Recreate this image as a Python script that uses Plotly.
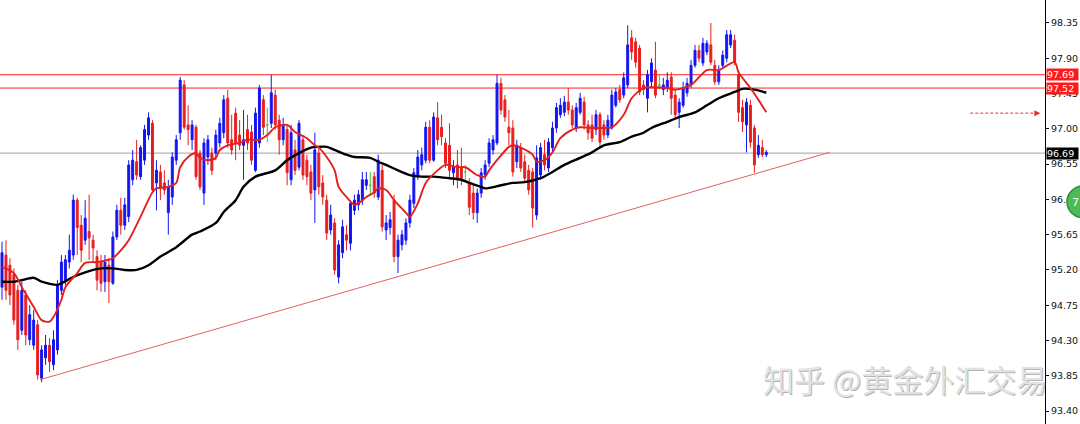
import plotly.graph_objects as go

# ---------------- data ----------------
opens = [94.98, 95.39, 95.26, 95.14, 94.94, 94.43, 94.88, 94.31, 94.24, 94.50,
         93.82, 94.08, 94.24, 93.99, 94.18, 94.94, 95.07, 95.30, 95.39, 96.09,
         95.77, 95.58, 95.69, 95.58, 95.37, 95.30, 95.05, 95.26, 95.03, 95.62,
         95.96, 95.77, 95.88, 96.35, 96.58, 96.39, 96.60, 96.92, 97.07, 96.31,
         96.45, 96.31, 95.93, 96.13, 96.60, 96.95, 97.56, 97.05, 96.86, 97.02,
         96.69, 96.18, 96.64, 96.69, 96.69, 96.82, 96.95, 97.39, 96.86, 97.20,
         96.92, 96.79, 96.99, 96.96, 96.47, 96.82, 97.37, 97.05, 97.07, 97.43,
         97.11, 96.86, 96.99, 96.35, 96.73, 96.51, 96.86, 96.60, 96.45, 96.22,
         96.69, 96.31, 96.09, 95.71, 95.80, 95.11, 95.42, 95.65, 95.54, 95.96,
         96.03, 96.09, 96.28, 96.28, 96.39, 96.13, 96.47, 95.71, 95.74, 96.09,
         95.37, 95.52, 95.58, 95.80, 96.05, 96.39, 96.54, 96.60, 97.02, 96.60,
         97.14, 97.02, 96.82, 96.79, 96.44, 96.54, 96.50, 96.45, 96.31, 96.18,
         95.93, 96.18, 96.41, 96.56, 96.73, 96.82, 97.58, 97.37, 97.02, 97.01,
         96.58, 96.76, 96.58, 96.47, 96.45, 95.90, 96.41, 96.67, 96.50, 96.76,
         97.01, 97.18, 97.21, 97.34, 97.24, 97.01, 97.21, 97.34, 97.05, 97.05,
         96.99, 97.18, 97.05, 96.92, 97.01, 97.30, 97.50, 97.43, 97.56, 98.16,
         98.11, 98.03, 97.56, 97.39, 97.60, 97.75, 97.56, 97.50, 97.52, 97.66,
         97.43, 97.21, 97.30, 97.46, 97.56, 97.81, 98.00, 97.84, 97.98, 98.07,
         97.81, 97.60, 97.81, 97.90, 98.07, 98.13, 97.69, 97.27, 97.05, 97.30,
         97.01, 96.67, 96.76, 96.67]

closes = [95.42, 94.94, 94.88, 94.56, 94.31, 94.94, 94.37, 94.63, 94.56, 93.86,
          94.18, 94.24, 94.03, 94.31, 95.01, 95.30, 95.33, 95.45, 96.09, 95.74,
          95.45, 95.86, 95.61, 95.48, 95.07, 95.03, 95.30, 95.05, 95.62, 95.96,
          95.77, 96.03, 96.54, 96.60, 96.41, 96.76, 96.99, 97.14, 96.22, 96.47,
          96.24, 96.22, 96.26, 96.64, 96.86, 97.62, 97.02, 96.99, 97.05, 96.39,
          96.26, 96.82, 96.86, 96.47, 96.92, 97.07, 97.37, 96.82, 96.73, 96.82,
          96.79, 96.86, 96.82, 96.60, 97.20, 97.52, 97.02, 97.05, 97.46, 97.05,
          96.86, 97.05, 96.44, 96.95, 96.47, 97.07, 96.41, 96.39, 96.18, 96.73,
          96.26, 96.13, 95.67, 95.90, 95.20, 95.52, 95.75, 95.58, 96.05, 96.09,
          96.16, 96.35, 96.35, 96.28, 96.18, 96.60, 95.75, 95.80, 95.84, 95.37,
          95.58, 95.65, 95.80, 96.09, 96.44, 96.64, 96.67, 97.02, 96.60, 97.15,
          96.86, 96.90, 96.56, 96.47, 96.51, 96.37, 96.37, 96.45, 96.00, 95.93,
          96.18, 96.44, 96.54, 96.82, 96.86, 97.58, 97.24, 97.15, 96.95, 96.45,
          96.79, 96.50, 96.37, 96.22, 95.99, 96.63, 96.76, 96.54, 96.83, 97.01,
          97.27, 97.30, 97.34, 97.24, 97.05, 97.27, 97.39, 97.05, 96.95, 96.88,
          97.18, 96.83, 96.92, 97.11, 97.43, 97.47, 97.37, 97.65, 98.07, 97.98,
          97.85, 97.47, 97.50, 97.69, 97.84, 97.43, 97.56, 97.56, 97.62, 97.39,
          97.18, 97.34, 97.52, 97.58, 97.81, 98.00, 97.90, 98.09, 98.09, 97.85,
          97.60, 97.75, 97.94, 98.20, 98.20, 97.85, 97.21, 97.09, 97.34, 96.83,
          96.54, 96.79, 96.67, 96.70]

highs = [95.56, 95.58, 95.35, 95.22, 95.01, 95.05, 94.94, 94.75, 94.69, 94.56,
         94.24, 94.37, 94.33, 94.43, 95.07, 95.39, 95.39, 95.65, 96.16, 96.12,
         95.90, 96.09, 96.16, 95.65, 95.45, 95.39, 95.39, 95.35, 95.69, 96.03,
         96.12, 96.12, 96.60, 96.73, 96.86, 96.79, 97.05, 97.21, 97.11, 96.60,
         96.54, 96.47, 96.35, 96.70, 96.92, 97.66, 97.62, 97.30, 97.11, 97.05,
         96.73, 96.88, 96.92, 96.76, 96.99, 97.14, 97.43, 97.50, 97.18, 97.27,
         97.11, 97.24, 97.18, 97.05, 97.27, 97.56, 97.43, 97.27, 97.69, 97.50,
         97.18, 97.14, 97.05, 97.05, 96.86, 97.11, 96.92, 96.67, 96.54, 96.95,
         96.76, 96.41, 96.16, 96.03, 95.86, 95.58, 95.84, 95.77, 96.09, 96.16,
         96.22, 96.45, 96.45, 96.45, 96.45, 96.67, 96.54, 95.90, 95.94, 96.16,
         95.65, 95.71, 95.86, 96.16, 96.50, 96.73, 96.76, 97.09, 97.11, 97.21,
         97.34, 97.18, 96.88, 97.07, 96.60, 96.73, 96.76, 96.54, 96.37, 96.28,
         96.24, 96.50, 96.60, 96.88, 96.92, 97.69, 97.65, 97.43, 97.24, 97.11,
         96.86, 96.82, 96.67, 96.54, 96.50, 96.79, 96.82, 96.86, 96.88, 97.09,
         97.33, 97.39, 97.42, 97.52, 97.30, 97.33, 97.46, 97.41, 97.11, 97.18,
         97.24, 97.21, 97.11, 97.18, 97.50, 97.52, 97.56, 97.72, 98.32, 98.26,
         98.16, 98.07, 97.62, 97.75, 97.90, 98.11, 97.69, 97.65, 97.72, 97.72,
         97.50, 97.39, 97.60, 97.65, 97.88, 98.07, 98.07, 98.16, 98.13, 98.35,
         97.88, 97.81, 98.00, 98.26, 98.26, 98.20, 97.75, 97.37, 97.39, 97.37,
         97.05, 96.92, 96.86, 96.73]

lows = [94.82, 94.82, 94.75, 94.50, 94.18, 94.37, 94.24, 94.24, 94.18, 93.80,
        93.77, 93.99, 93.90, 93.92, 94.12, 94.88, 95.01, 95.22, 95.33, 95.39,
        95.30, 95.52, 95.33, 95.30, 94.94, 94.92, 94.92, 94.78, 95.01, 95.58,
        95.65, 95.71, 95.81, 96.28, 96.35, 96.35, 96.54, 96.86, 96.19, 95.96,
        96.09, 96.16, 95.65, 96.03, 96.54, 96.86, 96.99, 96.79, 96.73, 96.35,
        96.22, 96.03, 96.54, 96.41, 96.60, 96.76, 96.88, 96.76, 96.67, 96.60,
        96.73, 96.35, 96.73, 96.54, 96.45, 96.76, 96.92, 96.83, 97.01, 96.99,
        96.67, 96.79, 96.28, 96.28, 96.41, 96.47, 96.35, 96.28, 96.09, 95.80,
        96.16, 96.03, 95.58, 95.65, 95.14, 95.03, 95.35, 95.45, 95.45, 95.90,
        95.96, 96.03, 96.22, 96.16, 96.12, 96.09, 95.69, 95.58, 95.65, 95.30,
        95.16, 95.45, 95.52, 95.74, 95.99, 96.35, 96.47, 96.56, 96.56, 96.58,
        96.79, 96.79, 96.50, 96.37, 96.28, 96.24, 96.28, 96.35, 95.90, 95.84,
        95.80, 96.12, 96.35, 96.51, 96.67, 96.79, 97.18, 97.09, 96.79, 96.39,
        96.50, 96.45, 96.31, 96.16, 95.74, 95.84, 96.35, 96.47, 96.45, 96.70,
        96.95, 97.14, 97.16, 97.18, 97.01, 96.96, 97.18, 96.99, 96.86, 96.83,
        96.92, 96.76, 96.86, 96.88, 96.99, 97.27, 97.33, 97.39, 97.52, 97.88,
        97.78, 97.43, 97.43, 97.21, 97.52, 97.39, 97.50, 97.43, 97.47, 97.18,
        97.14, 97.01, 97.27, 97.41, 97.52, 97.78, 97.85, 97.80, 97.94, 97.81,
        97.56, 97.56, 97.78, 97.85, 98.03, 97.81, 97.09, 96.96, 96.70, 96.76,
        96.44, 96.63, 96.64, 96.64]

# fast (red) moving average: bar index / value
ma_fast_idx = [0, 3, 5, 8, 10, 12, 13, 15, 16, 19, 21, 24, 27, 28, 30, 32, 35, 38, 39, 42,
               44, 45, 47, 49, 50, 52, 54, 55, 57, 60, 62, 65, 67, 69, 72, 74, 77, 79, 80, 82,
               84, 85, 87, 89, 90, 92, 94, 95, 97, 99, 102, 103, 105, 107, 110, 112, 115, 117, 120, 122,
               123, 125, 128, 129, 131, 134, 135, 137, 139, 141, 144, 146, 149, 152, 154, 157, 159, 162, 164, 168,
               170, 174, 178, 181, 185, 186, 189, 191, 193]
ma_fast_val = [95.24, 95.16, 94.98, 94.73, 94.56, 94.54, 94.60, 94.82, 94.98, 95.16,
               95.29, 95.30, 95.33, 95.35, 95.45, 95.58, 95.88, 96.19, 96.24, 96.26,
               96.31, 96.51, 96.64, 96.69, 96.63, 96.60, 96.63, 96.73, 96.79, 96.82,
               96.86, 96.86, 96.92, 97.02, 97.05, 96.96, 96.88, 96.79, 96.76, 96.64,
               96.47, 96.26, 96.13, 96.03, 96.05, 96.13, 96.19, 96.24, 96.22, 96.09,
               95.93, 95.88, 96.05, 96.31, 96.47, 96.54, 96.51, 96.51, 96.41, 96.39,
               96.47, 96.60, 96.77, 96.79, 96.76, 96.67, 96.58, 96.60, 96.70, 96.88,
               96.99, 97.02, 97.01, 97.01, 97.02, 97.18, 97.39, 97.52, 97.53, 97.52,
               97.50, 97.56, 97.75, 97.75, 97.85, 97.72, 97.52, 97.37, 97.21]

# slow (black) moving average
ma_slow_idx = [0, 3, 5, 8, 10, 14, 15, 18, 21, 25, 28, 31, 34, 37, 40, 44, 48, 50, 54, 56,
               59, 61, 64, 69, 72, 75, 78, 80, 82, 84, 87, 89, 93, 95, 97, 100, 103, 106, 109, 113,
               116, 118, 121, 122, 126, 129, 132, 136, 139, 142, 146, 149, 152, 156, 159, 162, 164, 168, 171, 175,
               178, 181, 185, 187, 190, 193]
ma_slow_val = [95.05, 95.05, 95.07, 95.10, 95.05, 95.01, 95.03, 95.11, 95.17, 95.22,
               95.22, 95.20, 95.20, 95.26, 95.37, 95.49, 95.65, 95.69, 95.80, 95.94,
               96.09, 96.26, 96.39, 96.47, 96.60, 96.69, 96.76, 96.77, 96.77, 96.73,
               96.67, 96.64, 96.63, 96.58, 96.54, 96.47, 96.41, 96.39, 96.39, 96.37,
               96.35, 96.31, 96.26, 96.24, 96.28, 96.31, 96.32, 96.37, 96.45, 96.54,
               96.63, 96.70, 96.79, 96.83, 96.90, 96.95, 97.01, 97.09, 97.15, 97.21,
               97.30, 97.39, 97.47, 97.51, 97.50, 97.46]

resistance_levels = [97.69, 97.52]
current_price = 96.69
alert_price = 97.20
trend_idx = [9.6, 209]
trend_val = [93.80, 96.70]

tick_vals = [93.40, 93.85, 94.30, 94.75, 95.20, 95.65, 96.10, 96.55, 97.00, 97.45, 97.90, 98.35]
tick_text = ["93.40", "93.85", "94.30", "94.75", "95.20", "95.65", "96.10", "96.55", "97.00", "97.45", "97.90", "98.35"]

watermark = "知乎 @黄金外汇交易"

# ---------------- figure ----------------
BLUE = "#1414f0"
RED = "#e81e1e"
GREEN = "#33cc33"

idx_all = list(range(len(closes)))
norm = [i for i in idx_all if opens[i] != closes[i]]
doji = [i for i in idx_all if opens[i] == closes[i]]

fig = go.Figure()

fig.add_trace(go.Candlestick(
    x=norm,
    open=[opens[i] for i in norm], high=[highs[i] for i in norm],
    low=[lows[i] for i in norm], close=[closes[i] for i in norm],
    increasing=dict(line=dict(color=BLUE, width=1), fillcolor=BLUE),
    decreasing=dict(line=dict(color=RED, width=1), fillcolor=RED),
    hoverinfo="skip",
))
fig.add_trace(go.Candlestick(
    x=doji,
    open=[opens[i] for i in doji], high=[highs[i] for i in doji],
    low=[lows[i] for i in doji], close=[closes[i] for i in doji],
    increasing=dict(line=dict(color=GREEN, width=1), fillcolor=GREEN),
    decreasing=dict(line=dict(color=GREEN, width=1), fillcolor=GREEN),
    hoverinfo="skip",
))

fig.add_trace(go.Scatter(x=ma_slow_idx, y=ma_slow_val, mode="lines",
                         line=dict(color="#000000", width=2.4, shape="spline", smoothing=0.8),
                         hoverinfo="skip"))
fig.add_trace(go.Scatter(x=ma_fast_idx, y=ma_fast_val, mode="lines",
                         line=dict(color="#e3201b", width=1.9, shape="spline", smoothing=0.8),
                         hoverinfo="skip"))
fig.add_trace(go.Scatter(x=trend_idx, y=trend_val, mode="lines",
                         line=dict(color="#e06060", width=1), hoverinfo="skip"))

shapes = []
for lv in resistance_levels:
    shapes.append(dict(type="line", xref="paper", x0=0, x1=1, yref="y", y0=lv, y1=lv,
                       line=dict(color="#ff2020", width=1), layer="below"))
shapes.append(dict(type="line", xref="paper", x0=0, x1=1, yref="y", y0=current_price, y1=current_price,
                   line=dict(color="#a0a0a0", width=1), layer="below"))
shapes.append(dict(type="line", xref="x", x0=244.5, x1=261.0, yref="y", y0=alert_price, y1=alert_price,
                   line=dict(color="#e03030", width=1, dash="3px,2px")))
# green badge at right edge
shapes.append(dict(type="circle", xref="paper", yref="paper",
                   x0=1.021, x1=1.053, y0=0.486, y1=0.562,
                   fillcolor="#4cbb55", line=dict(color="#2f8f3a", width=1.5), layer="above"))

annotations = []
for lv in resistance_levels:
    annotations.append(dict(xref="paper", x=1.0, yref="y", y=lv, xanchor="left", yanchor="middle",
                            text=f"{lv:.2f}", showarrow=False, bgcolor="#ff1a1a",
                            font=dict(family="DejaVu Sans", size=9.5, color="white"),
                            width=31, height=11, borderpad=0, align="left", xshift=1))
annotations.append(dict(xref="paper", x=1.0, yref="y", y=current_price, xanchor="left", yanchor="middle",
                        text=f"{current_price:.2f}", showarrow=False, bgcolor="#000000",
                        font=dict(family="DejaVu Sans", size=9.5, color="white"),
                        width=31, height=11, borderpad=0, align="left", xshift=1))
annotations.append(dict(xref="x", x=262.2, yref="y", y=alert_price, ax=-7, ay=0,
                        text="", showarrow=True, arrowhead=2, arrowsize=1, arrowwidth=1.2,
                        arrowcolor="#e03030"))
# watermark (embossed look)
annotations.append(dict(xref="paper", yref="paper", x=0.866, y=0.108, xanchor="center", yanchor="middle",
                        xshift=1, yshift=-1, text=watermark, showarrow=False,
                        font=dict(family="Noto Sans CJK SC", size=31, color="#b4b4b4")))
annotations.append(dict(xref="paper", yref="paper", x=0.866, y=0.108, xanchor="center", yanchor="middle",
                        text=watermark, showarrow=False,
                        font=dict(family="Noto Sans CJK SC", size=31, color="#e2e2e2")))
annotations.append(dict(xref="paper", yref="paper", x=1.029, y=0.522, xanchor="center", yanchor="middle",
                        text="7", showarrow=False,
                        font=dict(family="DejaVu Sans", size=11, color="white")))

fig.update_layout(
    width=1080, height=424,
    margin=dict(l=0, r=35, t=0, b=0, pad=0, autoexpand=False),
    plot_bgcolor="white", paper_bgcolor="white",
    showlegend=False,
    shapes=shapes, annotations=annotations,
    xaxis=dict(range=[-0.505, 263.38], visible=False, rangeslider=dict(visible=False),
               showgrid=False, zeroline=False, automargin=False),
    yaxis=dict(range=[93.235, 98.643], side="right", tickvals=tick_vals, ticktext=tick_text,
               ticks="outside", ticklen=3, tickcolor="black", showline=True, linecolor="black",
               linewidth=1, showgrid=False, zeroline=False, automargin=False,
               tickfont=dict(family="DejaVu Sans", size=9.5, color="#111111")),
)

fig.write_html(
    "out.html",
    config={"displayModeBar": False},
    post_script="document.body.style.margin='0px';document.body.style.padding='0px';"
                "document.body.style.overflow='hidden';",
)
